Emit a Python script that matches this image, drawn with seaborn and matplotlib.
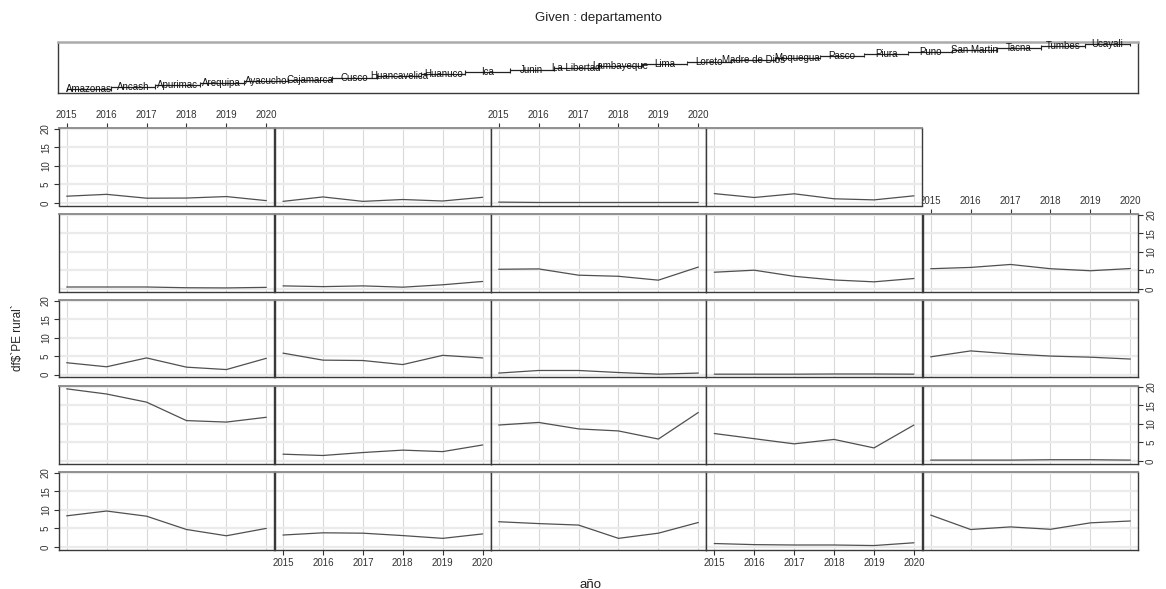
import numpy as np
import pandas as pd
import matplotlib
matplotlib.use("Agg")
import matplotlib.pyplot as plt
import seaborn as sns

years = [2015, 2016, 2017, 2018, 2019, 2020]
departamentos = ["Amazonas", "Ancash", "Apurimac", "Arequipa", "Ayacucho",
                 "Cajamarca", "Cusco", "Huancavelica", "Huanuco", "Ica",
                 "Junin", "La Libertad", "Lambayeque", "Lima", "Loreto",
                 "Madre de Dios", "Moquegua", "Pasco", "Piura", "Puno",
                 "San Martin", "Tacna", "Tumbes", "Ucayali"]
pe_2015 = [8.4, 3.2, 6.8, 0.9, 8.6, 19.5, 1.8, 9.7, 7.4, 0.2, 3.2, 5.8, 0.4, 0.1, 4.8,
           0.5, 0.8, 5.3, 4.5, 5.45, 1.8, 0.4, 0.2, 2.5]
pe_2016 = [9.7, 3.8, 6.3, 0.6, 4.7, 18.1, 1.45, 10.4, 6.0, 0.2, 2.1, 3.9, 1.1, 0.1, 6.4,
           0.5, 0.6, 5.4, 5.05, 5.8, 2.3, 1.6, 0.1, 1.45]
pe_2017 = [8.3, 3.7, 5.9, 0.5, 5.4, 15.9, 2.25, 8.65, 4.6, 0.2, 4.5, 3.8, 1.1, 0.1, 5.6,
           0.5, 0.8, 3.7, 3.4, 6.6, 1.26, 0.4, 0.1, 2.45]
pe_2018 = [4.7, 3.05, 2.3, 0.5, 4.75, 10.9, 2.9, 8.1, 5.8, 0.3, 2.0, 2.7, 0.55, 0.15, 5.0,
           0.3, 0.45, 3.4, 2.4, 5.45, 1.3, 0.9, 0.1, 1.1]
pe_2019 = [3.0, 2.3, 3.7, 0.35, 6.5, 10.5, 2.5, 5.9, 3.5, 0.3, 1.35, 5.2, 0.1, 0.15, 4.7,
           0.25, 1.1, 2.35, 1.9, 4.9, 1.7, 0.5, 0.1, 0.8]
pe_2020 = [5.0, 3.5, 6.6, 1.1, 7.0, 11.8, 4.3, 13.1, 9.7, 0.2, 4.4, 4.5, 0.4, 0.1, 4.2,
           0.4, 2.0, 5.9, 2.8, 5.5, 0.6, 1.5, 0.1, 1.9]
y_ticks = [0, 5, 10, 15, 20]

vals = np.column_stack([pe_2015, pe_2016, pe_2017, pe_2018, pe_2019, pe_2020]).ravel()
df = pd.DataFrame({
    "departamento": np.repeat(departamentos, len(years)),
    "año": np.tile(years, len(departamentos)),
    "PE rural": vals,
})

sns.set_theme(style="white")
plt.rcParams["font.family"] = ["Liberation Sans", "DejaVu Sans"]

W, H = 1166, 589
fig = plt.figure(figsize=(W / 100, H / 100), dpi=100)


def frac(x, ytop, w, h):
    return [x / W, 1 - (ytop + h) / H, w / W, h / H]


col_x = [58.7, 275.0, 490.7, 706.3, 922.7]
pw = 215.6
row_top = [472.0, 386.0, 299.7, 214.0, 128.0]  # from bottom row upward
ph = 77.5
TICK_COL = "#333333"
FRAME_COL = "#3a3a3a"
TSIZE = 7.0

for i, dep in enumerate(departamentos):
    r, c = divmod(i, 5)
    ax = fig.add_axes(frac(col_x[c], row_top[r], pw, ph))
    sub = df[df["departamento"] == dep]
    sns.lineplot(data=sub, x="año", y="PE rural", ax=ax, color="#505050",
                 linewidth=0.9, errorbar=None)
    ax.set_xlim(2014.8, 2020.2)
    ax.set_ylim(-0.72, 20.27)
    ax.set_xticks(years)
    ax.set_yticks(y_ticks)
    ax.set_axisbelow(True)
    ax.xaxis.grid(True, color="#d9d9d9", linewidth=0.8)
    ax.yaxis.grid(True, color="#ebebeb", linewidth=1.6)
    ax.set_xlabel("")
    ax.set_ylabel("")
    for s in ax.spines.values():
        s.set_visible(True)
        s.set_color(FRAME_COL)
        s.set_linewidth(1.0)
    ax.spines["top"].set_color("#888888")
    ax.spines["top"].set_linewidth(1.3)

    # x axes
    top_x = (r == 4 and c in (0, 2)) or (r == 3 and c == 4)
    bot_x = (r == 0 and c in (1, 3))
    if top_x:
        ax.xaxis.tick_top()
        ax.tick_params(axis="x", which="both", top=True, bottom=False, labeltop=True,
                       labelbottom=False, length=3.6, width=0.8, pad=2.0,
                       labelsize=TSIZE, colors=TICK_COL)
    elif bot_x:
        ax.tick_params(axis="x", which="both", bottom=True, top=False, labelbottom=True,
                       labeltop=False, length=3.6, width=0.8, pad=2.5,
                       labelsize=TSIZE, colors=TICK_COL)
    else:
        ax.tick_params(axis="x", length=0, labelbottom=False, labeltop=False)

    # y axes
    left_y = (c == 0 and r in (0, 2, 4))
    right_y = (c == 4 and r in (1, 3))
    if left_y:
        ax.tick_params(axis="y", which="both", left=True, right=False, labelleft=True,
                       labelright=False, length=3.6, width=0.8, pad=2.0,
                       labelsize=TSIZE, colors=TICK_COL)
        for t in ax.get_yticklabels():
            t.set_rotation(90)
            t.set_va("center")
    elif right_y:
        ax.yaxis.tick_right()
        ax.tick_params(axis="y", which="both", right=True, left=False, labelright=True,
                       labelleft=False, length=3.6, width=0.8, pad=2.0,
                       labelsize=TSIZE, colors=TICK_COL)
        for t in ax.get_yticklabels():
            t.set_rotation(90)
            t.set_va("center")
    else:
        ax.tick_params(axis="y", length=0, labelleft=False, labelright=False)

# Given panel
gax = fig.add_axes(frac(58.0, 41.7, 1080.0, 51.6))
pos = np.arange(1, len(departamentos) + 1)
gax.hlines(pos, pos - 0.5, pos + 0.5, color="#222222", linewidth=0.9)
gax.vlines(np.concatenate([pos - 0.5, pos + 0.5]),
           np.concatenate([pos - 0.7, pos - 0.7]),
           np.concatenate([pos + 0.7, pos + 0.7]), color="#222222", linewidth=0.8)
for p, dep in zip(pos, departamentos):
    gax.text(p, p, dep, ha="center", va="center", fontsize=7.0, color="#111111")
gax.set_xlim(0.304, 24.69)
gax.set_ylim(-1.04, 25.33)
gax.set_xticks([])
gax.set_yticks([])
for s in gax.spines.values():
    s.set_visible(True)
    s.set_color(FRAME_COL)
    s.set_linewidth(1.0)
gax.spines["top"].set_color("#aaaaaa")
gax.spines["top"].set_linewidth(1.8)

fig.text(598 / W, 1 - 18 / H, "Given : departamento", ha="center", va="center",
         fontsize=9.5, color="#222222")
fig.text(18 / W, 1 - 338 / H, "df$`PE rural`", ha="center", va="center",
         rotation=90, fontsize=8.5, color="#222222")
fig.text(590 / W, 1 - 579 / H, "año", ha="center", va="top",
         fontsize=9.5, color="#222222")

fig.savefig("out.png", dpi=100)
